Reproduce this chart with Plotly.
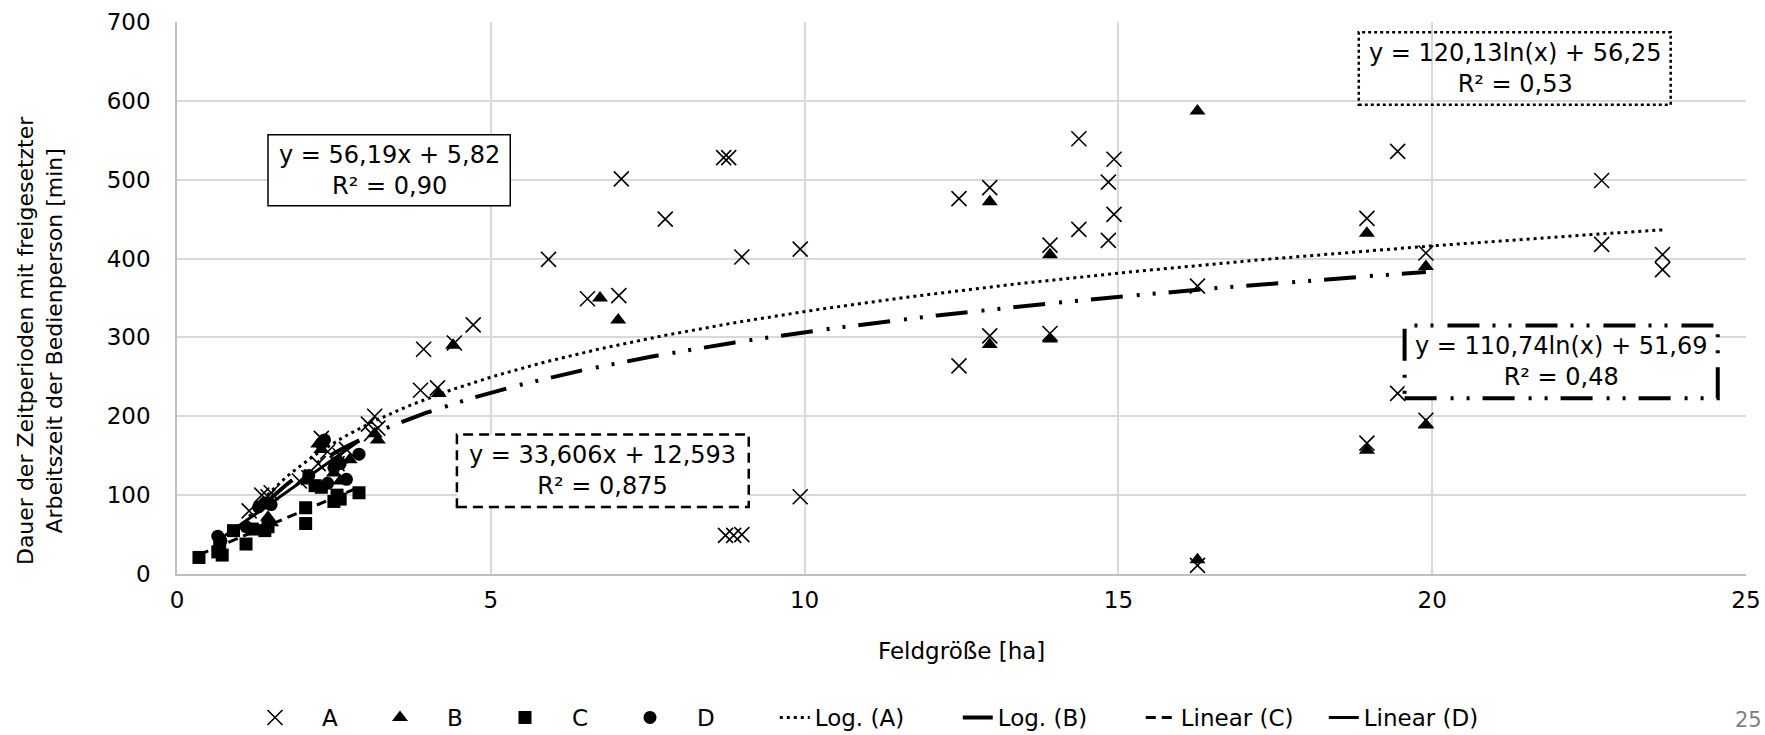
import numpy as np
import plotly.graph_objects as go

# Feldgröße [ha] / Dauer [min] per group
a_x = [1.15, 1.35, 1.45, 1.5, 1.95, 2.1, 2.25, 2.3, 2.4, 2.55, 2.6, 2.7, 3.05, 3.15, 3.2, 3.1,
       3.88, 4.15, 3.93, 4.42, 4.72, 5.92, 6.54, 7.04, 7.08, 7.78, 8.71, 8.79, 9.0, 9.93, 9.93,
       8.74, 8.87, 9.0, 12.46, 12.46, 12.95, 12.95, 13.91, 13.91, 14.37, 14.37, 14.84, 14.84,
       14.93, 14.93, 16.26, 16.26, 18.96, 18.96, 19.45, 19.45, 19.9, 19.9, 22.7, 22.7, 23.67, 23.67]
a_y = [80, 100, 98, 103, 118, 122, 140, 172, 155, 140, 150, 158, 190, 200, 185, 178,
       233, 236, 285, 293, 316, 399, 349, 353, 501, 450, 528, 528, 402, 412, 98,
       49, 49, 50, 476, 264, 490, 302, 417, 305, 552, 437, 497, 423,
       526, 456, 365, 11, 451, 166, 536, 229, 407, 195, 499, 418, 405, 386]

b_x = [1.45, 1.5, 2.1, 2.25, 2.3, 2.5, 2.6, 2.75, 3.2, 3.15,
       4.17, 4.4, 6.74, 7.03, 12.95, 12.95, 13.91, 13.91, 16.26, 16.26, 18.96, 18.96, 19.9, 19.9]
b_y = [72, 65, 118, 165, 158, 128, 118, 145, 170, 178,
       229, 290, 350, 322, 472, 291, 405, 298, 587, 18, 432, 157, 390, 189]

c_x = [0.35, 0.65, 0.68, 0.72, 0.9, 1.1, 1.2, 1.4, 1.45, 2.05, 2.05, 2.3, 2.5, 2.55, 2.6, 2.9, 2.2]
c_y = [21, 28, 35, 24, 55, 38, 57, 55, 60, 64, 84, 110, 92, 100, 95, 103, 112]

d_x = [0.65, 0.7, 1.3, 1.4, 1.5, 2.3, 2.35, 2.5, 2.6, 2.7, 2.9, 2.1, 2.4, 1.1]
d_y = [48, 42, 85, 90, 88, 165, 170, 135, 140, 120, 152, 125, 115, 60]

# Trend line coefficients (as printed in the equation boxes)
log_a = (120.13, 56.25)
log_b = (110.74, 51.69)
lin_c = (33.606, 12.593)
lin_d = (56.19, 5.82)

x_ticks = [0, 5, 10, 15, 20, 25]
y_ticks = [0, 100, 200, 300, 400, 500, 600, 700]

FONT = "DejaVu Sans"
BLACK = "#000000"
DASH_DOT_DOT = "32px,14px,3px,13px,3px,13px"

fig = go.Figure()

fig.add_trace(go.Scatter(x=a_x, y=a_y, mode="markers", name="A", legend="legend",
                         marker=dict(symbol="x-thin-open", size=15, color=BLACK,
                                     line=dict(width=1.6, color=BLACK))))
fig.add_trace(go.Scatter(x=b_x, y=b_y, mode="markers", name="B", legend="legend",
                         marker=dict(symbol="triangle-up", size=14, color=BLACK)))
fig.add_trace(go.Scatter(x=c_x, y=c_y, mode="markers", name="C", legend="legend",
                         marker=dict(symbol="square", size=13, color=BLACK)))
fig.add_trace(go.Scatter(x=d_x, y=d_y, mode="markers", name="D", legend="legend",
                         marker=dict(symbol="circle", size=13, color=BLACK)))


def span(xs):
    return np.linspace(min(xs), max(xs), 200)


xa = span(a_x)
fig.add_trace(go.Scatter(x=xa, y=log_a[0] * np.log(xa) + log_a[1], mode="lines",
                         name="Log. (A)", legend="legend2",
                         line=dict(color=BLACK, width=3, dash="3px,4px")))
xb = span(b_x)
fig.add_trace(go.Scatter(x=xb, y=log_b[0] * np.log(xb) + log_b[1], mode="lines",
                         name="Log. (B)", legend="legend2",
                         line=dict(color=BLACK, width=4, dash=DASH_DOT_DOT)))
xc = span(c_x)
fig.add_trace(go.Scatter(x=xc, y=lin_c[0] * xc + lin_c[1], mode="lines",
                         name="Linear (C)", legend="legend2",
                         line=dict(color=BLACK, width=3, dash="10px,6px")))
xd = span(d_x)
fig.add_trace(go.Scatter(x=xd, y=lin_d[0] * xd + lin_d[1], mode="lines",
                         name="Linear (D)", legend="legend2",
                         line=dict(color=BLACK, width=3)))


def fmt(v, nd):
    return f"{v:.{nd}f}".replace(".", ",")


# equation boxes: (x0, x1, y0, y1, border dash, border width, fill, text)
boxes = [
    (1.45, 5.31, 467, 557, "solid", 1.5, "white",
     f"y = {fmt(lin_d[0], 2)}x + {fmt(lin_d[1], 2)}<br>R² = 0,90"),
    (4.46, 9.11, 85, 177, "10px,6px", 2.5, "white",
     f"y = {fmt(lin_c[0], 3)}x + {fmt(lin_c[1], 3)}<br>R² = 0,875"),
    (18.83, 23.80, 595, 687, "3px,3px", 2.5, "rgba(0,0,0,0)",
     f"y = {fmt(log_a[0], 2)}ln(x) + {fmt(log_a[1], 2)}<br>R² = 0,53"),
    (19.56, 24.55, 223, 315, DASH_DOT_DOT, 4, "white",
     f"y = {fmt(log_b[0], 2)}ln(x) + {fmt(log_b[1], 2)}<br>R² = 0,48"),
]
for x0, x1, y0, y1, dash, w, fill, txt in boxes:
    fig.add_shape(type="rect", xref="x", yref="y", x0=x0, x1=x1, y0=y0, y1=y1,
                  line=dict(color=BLACK, width=w, dash=dash), fillcolor=fill, layer="above")
    fig.add_annotation(x=(x0 + x1) / 2, y=(y0 + y1) / 2, xref="x", yref="y",
                       text=txt, showarrow=False, align="center",
                       font=dict(family=FONT, size=24, color=BLACK))

# axis titles
fig.add_annotation(x=0.5, y=0, xref="paper", yref="paper", yshift=-77,
                   text="Feldgröße [ha]", showarrow=False, yanchor="middle",
                   font=dict(family=FONT, size=23, color=BLACK))
fig.add_annotation(x=0, y=0.422, xref="paper", yref="paper", xshift=-137,
                   text="Dauer der Zeitperioden mit freigesetzter<br>Arbeitszeit der Bedienperson [min]",
                   textangle=-90, showarrow=False, xanchor="center", yanchor="middle",
                   font=dict(family=FONT, size=22, color=BLACK))
# page number
fig.add_annotation(x=1, y=0, xref="paper", yref="paper", xshift=2, yshift=-146,
                   text="25", showarrow=False, xanchor="center", yanchor="middle",
                   font=dict(family=FONT, size=21, color="#7f7f7f"))

legend_common = dict(orientation="h", yanchor="middle", y=-0.26, xanchor="left",
                     font=dict(family=FONT, size=23, color=BLACK),
                     bgcolor="rgba(0,0,0,0)", entrywidthmode="pixels")

fig.update_layout(
    width=1765, height=735,
    margin=dict(l=177, r=19, t=22, b=161, autoexpand=False),
    paper_bgcolor="white", plot_bgcolor="white",
    font=dict(family=FONT, size=22, color=BLACK),
    showlegend=True,
    legend=dict(legend_common, x=0.0325, itemwidth=84, entrywidth=26),
    legend2=dict(legend_common, x=0.381, itemwidth=30, entrywidth=138),
)
fig.update_xaxes(range=[0, 25], tickvals=x_ticks, ticktext=[str(v) for v in x_ticks],
                 showgrid=True, gridcolor="#d9d9d9", gridwidth=1.5, zeroline=False,
                 showline=True, linecolor="#bfbfbf", linewidth=1.5,
                 ticks="", ticklabelstandoff=5, tickfont=dict(family=FONT, size=23),
                 fixedrange=True)
fig.update_yaxes(range=[0, 700], tickvals=y_ticks, ticktext=[str(v) for v in y_ticks],
                 showgrid=True, gridcolor="#d9d9d9", gridwidth=1.5, zeroline=False,
                 showline=True, linecolor="#bfbfbf", linewidth=1.5,
                 ticks="", ticklabelstandoff=20, tickfont=dict(family=FONT, size=23),
                 fixedrange=True)

fig.write_html("out.html")
